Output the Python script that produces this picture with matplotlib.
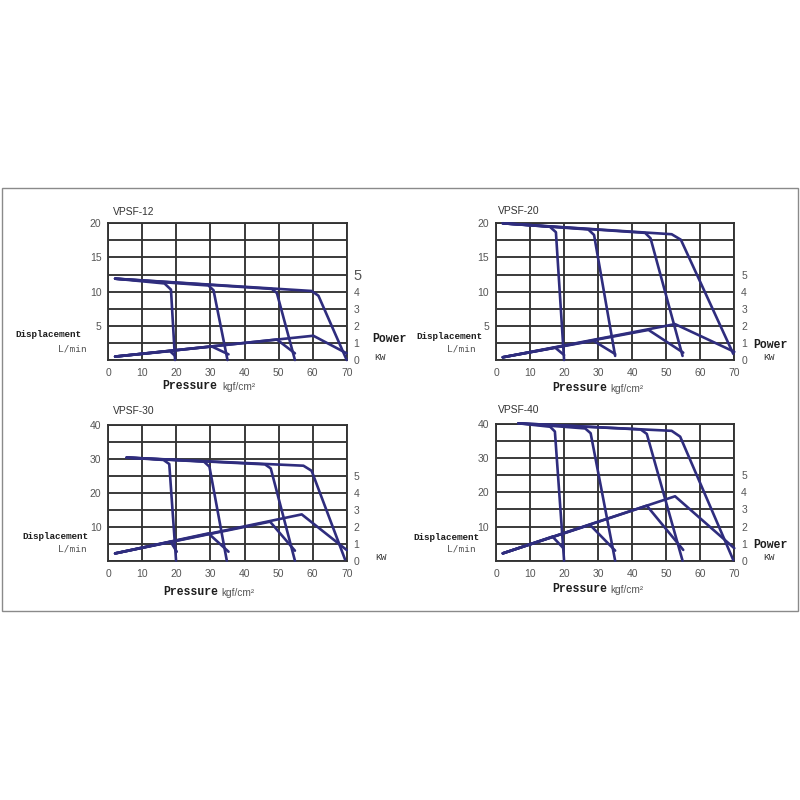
import matplotlib
matplotlib.use("Agg")
import matplotlib.pyplot as plt
from matplotlib.patches import Rectangle

# ---------------- data ----------------
models = ["VPSF-12", "VPSF-20", "VPSF-30", "VPSF-40"]
pressure_ticks = [0, 10, 20, 30, 40, 50, 60, 70]
power_ticks = [0, 1, 2, 3, 4, 5]

# VPSF-12 : displacement (L/min) curves
q12_start = [2.0, 11.9]
q12_knee_p = [16.5, 29.4, 48.0, 59.7]
q12_knee_q = [11.2, 10.9, 10.4, 10.1]
q12_bend_p = [18.4, 30.9, 49.5, 61.7]
q12_bend_q = [10.3, 10.2, 9.8, 9.4]
q12_cut_p = [19.6, 35.0, 54.8, 70.0]
q12_cut_q = [0.0, 0.0, 0.0, 0.0]
# VPSF-12 : power (kW)
w12_start = [2.0, 0.20]
w12_knee_p = [18.1, 30.4, 49.5, 60.2]
w12_knee_kw = [0.52, 0.79, 1.20, 1.42]
w12_end_p = [19.6, 35.3, 54.8, 70.0]
w12_end_kw = [0.24, 0.33, 0.39, 0.39]

# VPSF-20
q20_start = [2.0, 20.0]
q20_knee_p = [15.8, 27.1, 43.8, 51.6]
q20_knee_q = [19.5, 19.1, 18.6, 18.4]
q20_bend_p = [17.6, 28.8, 45.4, 54.3]
q20_bend_q = [18.7, 18.3, 17.8, 17.6]
q20_cut_p = [20.0, 35.0, 54.8, 69.7]
q20_cut_q = [0.0, 0.6, 0.6, 0.9]
w20_start = [2.0, 0.16]
w20_knee_p = [17.4, 28.6, 44.8, 52.6]
w20_knee_kw = [0.72, 1.13, 1.76, 2.10]
w20_end_p = [20.0, 35.0, 55.0, 70.0]
w20_end_kw = [0.29, 0.35, 0.43, 0.48]

# VPSF-30
q30_start = [5.4, 30.4]
q30_knee_p = [16.2, 28.1, 46.0, 57.3]
q30_knee_q = [29.7, 29.2, 28.4, 28.0]
q30_bend_p = [17.9, 29.7, 47.7, 59.7]
q30_bend_q = [28.5, 27.7, 27.2, 26.5]
q30_cut_p = [19.9, 34.8, 54.8, 69.5]
q30_cut_q = [0.0, 0.0, 0.0, 0.4]
w30_start = [2.0, 0.43]
w30_knee_p = [18.3, 29.4, 47.5, 56.8]
w30_knee_kw = [1.12, 1.61, 2.30, 2.73]
w30_end_p = [20.1, 35.3, 54.8, 70.0]
w30_end_kw = [0.53, 0.53, 0.59, 0.63]

# VPSF-40
q40_start = [6.6, 40.2]
q40_knee_p = [15.9, 26.2, 42.5, 51.6]
q40_knee_q = [39.2, 38.7, 38.4, 38.0]
q40_bend_p = [17.3, 27.8, 44.3, 54.1]
q40_bend_q = [37.8, 37.3, 37.1, 36.3]
q40_cut_p = [20.0, 35.0, 54.8, 69.7]
q40_cut_q = [0.0, 0.0, 0.0, 0.2]
w40_start = [2.0, 0.43]
w40_knee_p = [16.6, 27.6, 44.3, 52.6]
w40_knee_kw = [1.41, 2.10, 3.22, 3.77]
w40_end_p = [19.8, 35.0, 55.0, 70.0]
w40_end_kw = [0.73, 0.59, 0.63, 0.73]

flow_sets = [
    (q12_start, q12_knee_p, q12_knee_q, q12_bend_p, q12_bend_q, q12_cut_p, q12_cut_q),
    (q20_start, q20_knee_p, q20_knee_q, q20_bend_p, q20_bend_q, q20_cut_p, q20_cut_q),
    (q30_start, q30_knee_p, q30_knee_q, q30_bend_p, q30_bend_q, q30_cut_p, q30_cut_q),
    (q40_start, q40_knee_p, q40_knee_q, q40_bend_p, q40_bend_q, q40_cut_p, q40_cut_q),
]
power_sets = [
    (w12_start, w12_knee_p, w12_knee_kw, w12_end_p, w12_end_kw),
    (w20_start, w20_knee_p, w20_knee_kw, w20_end_p, w20_end_kw),
    (w30_start, w30_knee_p, w30_knee_kw, w30_end_p, w30_end_kw),
    (w40_start, w40_knee_p, w40_knee_kw, w40_end_p, w40_end_kw),
]
ymax_list = [20, 20, 40, 40]

# ---------------- styling / layout ----------------
W = H = 800
CURVE = "#2f2d7e"
GRID = "#333333"
TXT = "#555555"
DARK = "#1e1e1e"

fig = plt.figure(figsize=(8, 8), dpi=100, facecolor="white")

def ftxt(x, y, s, **kw):
    fig.text(x / W, 1 - y / H, s, **kw)

# outer frame
fig.patches.append(Rectangle((2 / W, 1 - 611 / H), 796 / W, 423 / H,
                             transform=fig.transFigure, fill=False,
                             edgecolor="#8a8a8a", lw=1.0))

# axes boxes in pixel coords: (x0, y_top, x1, y_bottom)
boxes = [(108.3, 223.3, 346.7, 360.0),
         (496.0, 223.3, 734.3, 360.0),
         (108.3, 425.0, 346.7, 560.7),
         (496.0, 424.0, 734.3, 560.7)]

for i, (x0, yt, x1, yb) in enumerate(boxes):
    ax = fig.add_axes([x0 / W, 1 - yb / H, (x1 - x0) / W, (yb - yt) / H])
    ymax = ymax_list[i]
    ax.set_xlim(0, 70)
    ax.set_ylim(0, ymax)
    ax.set_xticks(pressure_ticks)
    ax.set_yticks([ymax / 8 * k for k in range(9)])
    ax.set_yticklabels([("%d" % (ymax / 8 * k)) if k % 2 == 0 and k > 0 else ""
                        for k in range(9)])
    ax.grid(True, color=GRID, lw=1.35)
    ax.set_axisbelow(True)
    for s in ax.spines.values():
        s.set_color(GRID)
        s.set_linewidth(1.35)
    ax.tick_params(length=0, labelsize=7.5, labelcolor=TXT)
    ax.tick_params(axis="x", pad=6)
    ax.tick_params(axis="y", pad=5)
    for lab in ax.get_xticklabels() + ax.get_yticklabels():
        lab.set_family("Liberation Sans")

    # displacement curves
    st, kp, kq, bp, bq, cp, cq = flow_sets[i]
    for j in range(len(kp)):
        ax.plot([st[0], kp[j], bp[j], cp[j]], [st[1], kq[j], bq[j], cq[j]],
                color=CURVE, lw=1.9, solid_joinstyle="round",
                solid_capstyle="round", clip_on=False, zorder=3)

    # power axis (kW)
    ax2 = ax.twinx()
    ax2.set_ylim(0, 8)
    ax2.set_yticks(power_ticks)
    ax2.tick_params(length=0, labelsize=7.5, labelcolor=TXT, pad=5)
    for s in ax2.spines.values():
        s.set_visible(False)
    for lab in ax2.get_yticklabels():
        lab.set_family("Liberation Sans")
    if i == 0:
        ax2.get_yticklabels()[-1].set_fontsize(10.5)

    ps, pk, pw, pe, pew = power_sets[i]
    for j in range(len(pk)):
        ax2.plot([ps[0], pk[j], pe[j]], [ps[1], pw[j], pew[j]],
                 color=CURVE, lw=1.9, solid_joinstyle="round",
                 solid_capstyle="round", clip_on=False, zorder=3)

# ---------------- text labels ----------------
title_pos = [(113, 212), (498, 211), (113, 410.7), (498, 410)]
disp_pos = [(48.5, 335), (449, 336.7), (55, 536.7), (446, 537)]
lmin_pos = [(72, 349), (461, 349), (72.5, 549), (461, 549)]
power_pos = [(372, 338.5), (753, 345), None, (753, 545)]
kw_pos = [(380, 358), (769, 358), (381, 558), (769, 558)]
press_pos = [(190, 386), (579.5, 388), (190.5, 591.7), (579.5, 589)]
unit_pos = [(222, 387), (610, 389), (221, 592.5), (610, 590)]

for i in range(4):
    ftxt(*title_pos[i], models[i], ha="left", va="center", fontsize=7.4,
         color="#333333", family="Liberation Sans")
    ftxt(*disp_pos[i], "Displacement", ha="center", va="center", fontsize=6.7,
         color=DARK, family="Liberation Mono", weight="bold")
    ftxt(*lmin_pos[i], "L/min", ha="center", va="center", fontsize=6.8,
         color=TXT, family="DejaVu Sans Mono")
    if power_pos[i] is not None:
        ftxt(*power_pos[i], "Power", ha="left", va="center", fontsize=8.3,
             color=DARK, family="Liberation Mono", weight="bold")
    ftxt(*kw_pos[i], "KW", ha="center", va="center", fontsize=6.8,
         color="#333333", family="Liberation Mono")
    ftxt(*press_pos[i], "Pressure", ha="center", va="center", fontsize=8.3,
         color=DARK, family="Liberation Mono", weight="bold")
    ftxt(*unit_pos[i], "kgf/cm\u00b2", ha="left", va="center", fontsize=7.3,
         color="#555555", family="Liberation Sans")

fig.savefig("out.png", dpi=100, facecolor="white")
